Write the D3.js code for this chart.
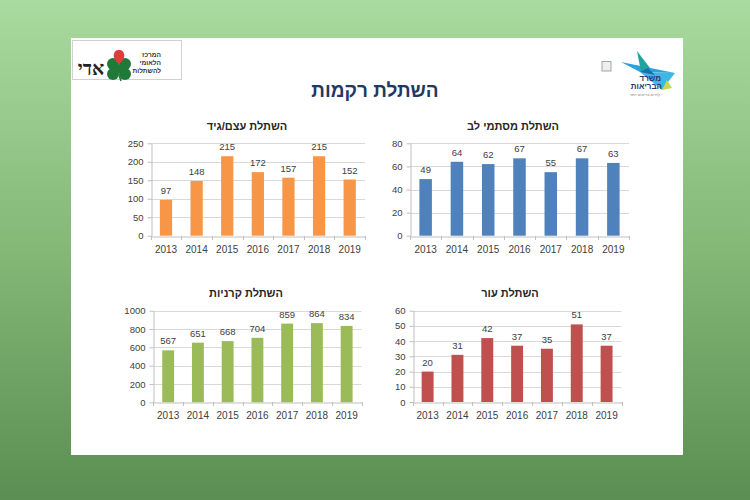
<!DOCTYPE html>
<html><head><meta charset="utf-8">
<script src="https://cdn.jsdelivr.net/npm/d3@7"></script>
<style>html,body{margin:0;padding:0;background:#fff}svg{display:block}</style>
</head><body>
<script>
// ---- data ----
const years = ["2013","2014","2015","2016","2017","2018","2019"];
const boneTendon = [97,148,215,172,157,215,152];
const heartValves = [49,64,62,67,55,67,63];
const corneas = [567,651,668,704,859,864,834];
const skin = [20,31,42,37,35,51,37];
const mainTitle = "השתלת רקמות";
const chartTitles = ["השתלת עצם/גיד","השתלת מסתמי לב","השתלת קרניות","השתלת עור"];
const yTickSteps = [50,20,200,10];
const yMaxes = [250,80,1000,60];

const W=750,H=500;
const svg=d3.select("body").append("svg").attr("width",W).attr("height",H);
const defs=svg.append("defs");
const gr=defs.append("linearGradient").attr("id","bg").attr("x1",0).attr("y1",0).attr("x2",0).attr("y2",1);
gr.append("stop").attr("offset",0).attr("stop-color","#a9da9f");
gr.append("stop").attr("offset",0.5).attr("stop-color","#83b877");
gr.append("stop").attr("offset",1).attr("stop-color","#5b8e52");
svg.append("rect").attr("width",W).attr("height",H).attr("fill","url(#bg)");
svg.append("rect").attr("x",71).attr("y",38).attr("width",612).attr("height",417).attr("fill","#fff");

svg.append("text").attr("x",375).attr("y",97).attr("text-anchor","middle")
  .attr("font-family","Liberation Sans, DejaVu Sans, sans-serif").attr("font-weight","bold")
  .attr("font-size",19).attr("fill","#1f3864").text(mainTitle);

// ---- left logo ----
const lg=svg.append("g");
lg.append("rect").attr("x",72.5).attr("y",40.5).attr("width",109).attr("height",39).attr("fill","#fff").attr("stroke","#d0d0d0");
lg.append("text").attr("x",91).attr("y",75).attr("text-anchor","middle").attr("font-family","Liberation Serif, DejaVu Serif, serif")
  .attr("font-weight","bold").attr("font-size",19).attr("fill","#222").text("אדי");
const cx=119, cy=66;
[[-6,-2],[6,-2],[-6,8],[6,8]].forEach(d=>{
  lg.append("circle").attr("cx",cx+d[0]).attr("cy",cy+d[1]).attr("r",6).attr("fill","#1f7a3a");
});
lg.append("circle").attr("cx",cx).attr("cy",cy+3).attr("r",4).attr("fill","#1f7a3a");
lg.append("path").attr("d",`M${cx},${cy-2} C${cx-8},${cy-8} ${cx-6},${cy-16} ${cx},${cy-16} C${cx+6},${cy-16} ${cx+8},${cy-8} ${cx},${cy-2} Z`).attr("fill","#e03c3c");
lg.append("path").attr("d",`M${cx},${cy+9} L${cx+2},${cy+15}`).attr("stroke","#1f7a3a").attr("stroke-width",1.5);
["המרכז","הלאומי","להשתלות"].forEach((t,i)=>{
  lg.append("text").attr("x",161).attr("y",57+i*7.8).attr("text-anchor","end").attr("font-family","Liberation Sans, DejaVu Sans, sans-serif")
    .attr("font-weight","bold").attr("font-size",6.6).attr("fill","#333").text(t);
});

// ---- right logo ----
const rg=svg.append("g");
rg.append("rect").attr("x",602).attr("y",61.5).attr("width",9).attr("height",9.5).attr("fill","#eee").attr("stroke","#9aa").attr("stroke-width",1);
rg.append("path").attr("d","M621,62 L675,73 L640,72 Z").attr("fill","#2aa3d8");
rg.append("path").attr("d","M637,51 L650,68 L641,72 Z").attr("fill","#1fa3a0");
rg.append("path").attr("d","M640,72 L675,73 L662,90 Z").attr("fill","#3db7e4");
rg.append("path").attr("d","M662,90 L667,80 L672,88 Z").attr("fill","#c5d94a");
rg.append("path").attr("d","M648,68 L640,72 L655,75 Z").attr("fill","#1b6fa8");
rg.append("text").attr("x",661).attr("y",81).attr("text-anchor","end").attr("font-family","Liberation Sans, DejaVu Sans, sans-serif")
  .attr("font-weight","bold").attr("font-size",8).attr("fill","#243a6b").text("משרד");
rg.append("text").attr("x",662).attr("y",89).attr("text-anchor","end").attr("font-family","Liberation Sans, DejaVu Sans, sans-serif")
  .attr("font-weight","bold").attr("font-size",8).attr("fill","#243a6b").text("הבריאות");
rg.append("text").attr("x",660).attr("y",96).attr("text-anchor","end").attr("font-family","Liberation Sans, DejaVu Sans, sans-serif")
  .attr("font-size",4).attr("fill","#777").text("לחיים בריאים יותר");

// ---- charts ----
const seriesList=[boneTendon,heartValves,corneas,skin];
const colors=["#F79646","#4F81BD","#9BBB59","#C0504D"];
const layouts=[
  {x0:150.7,x1:365,y0:235.7,y1:143.3,tx:247,ty:130},
  {x0:410,x1:629,y0:235.7,y1:143.3,tx:513,ty:130},
  {x0:153.3,x1:361.5,y0:402.3,y1:310.7,tx:246,ty:297},
  {x0:412.7,x1:621.5,y0:402,y1:310.7,tx:510,ty:297}
];
const FONT="Liberation Sans, Arial, DejaVu Sans, sans-serif";
seriesList.forEach((vals,i)=>{
  const L=layouts[i];
  const g=svg.append("g");
  const x=d3.scaleBand().domain(years).range([L.x0,L.x1]).paddingInner(0.6).paddingOuter(0.3);
  const y=d3.scaleLinear().domain([0,yMaxes[i]]).range([L.y0,L.y1]);
  const ticks=d3.range(0,yMaxes[i]+yTickSteps[i]/2,yTickSteps[i]);
  g.selectAll("line.grid").data(ticks.filter(t=>t>0)).join("line")
    .attr("x1",L.x0).attr("x2",L.x1).attr("y1",d=>Math.round(y(d))+0.5).attr("y2",d=>Math.round(y(d))+0.5)
    .attr("stroke","#d9d9d9").attr("stroke-width",1);
  const ya=g.append("g").attr("transform",`translate(${Math.round(L.x0)+0.5},0)`)
    .call(d3.axisLeft(y).tickValues(ticks).tickFormat(d3.format("d")).tickSize(4).tickSizeOuter(0).tickPadding(4));
  ya.select(".domain").attr("stroke","#bfbfbf");
  ya.selectAll(".tick line").attr("stroke","#bfbfbf");
  ya.selectAll("text").attr("font-family",FONT).attr("font-size",9.5).attr("fill","#404040");
  g.selectAll("rect.bar").data(vals).join("rect")
    .attr("x",(d,j)=>x(years[j])).attr("width",x.bandwidth())
    .attr("y",d=>y(d)).attr("height",d=>y(0)-y(d)).attr("fill",colors[i]);
  const xa=g.append("g").attr("transform",`translate(0,${Math.round(L.y0)+0.5})`)
    .call(d3.axisBottom(x).tickSize(0).tickPadding(9));
  xa.select(".domain").attr("stroke","#bfbfbf");
  xa.selectAll("text").attr("font-family",FONT).attr("font-size",10).attr("fill","#404040");
  const step=(L.x1-L.x0)/years.length;
  g.selectAll("line.xt").data(d3.range(years.length+1)).join("line")
    .attr("x1",d=>Math.round(L.x0+d*step)+0.5).attr("x2",d=>Math.round(L.x0+d*step)+0.5)
    .attr("y1",Math.round(L.y0)).attr("y2",Math.round(L.y0)+4).attr("stroke","#bfbfbf");
  g.selectAll("text.lbl").data(vals).join("text")
    .attr("x",(d,j)=>x(years[j])+x.bandwidth()/2).attr("y",d=>y(d)-6)
    .attr("text-anchor","middle").attr("font-family",FONT).attr("font-size",9.5).attr("fill","#404040").text(d=>d);
  g.append("text").attr("x",L.tx).attr("y",L.ty).attr("text-anchor","middle").attr("font-family",FONT)
    .attr("font-weight","bold").attr("font-size",11).attr("fill","#262626").text(chartTitles[i]);
});
</script>
</body></html>
